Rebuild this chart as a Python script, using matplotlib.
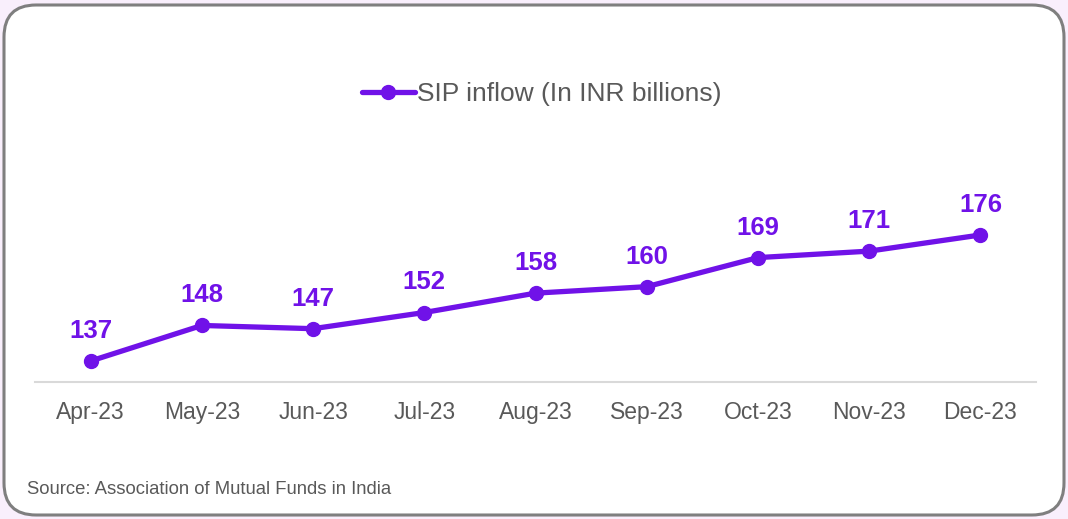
import matplotlib.pyplot as plt
from matplotlib.patches import FancyBboxPatch

plt.rcParams['font.family'] = ['Liberation Sans', 'DejaVu Sans']

# data
months = ['Apr-23', 'May-23', 'Jun-23', 'Jul-23', 'Aug-23', 'Sep-23', 'Oct-23', 'Nov-23', 'Dec-23']
sip_inflow = [137, 148, 147, 152, 158, 160, 169, 171, 176]

purple = '#7012E8'
grey_txt = '#595959'

fig = plt.figure(figsize=(10.68, 5.19), dpi=100)
fig.patch.set_facecolor('#F9EFFC')

# rounded card behind the chart
card = FancyBboxPatch((4 / 1068, 4 / 519), 1060 / 1068, 510 / 519,
                      boxstyle='round,pad=0,rounding_size=0.03',
                      transform=fig.transFigure, facecolor='white',
                      edgecolor='#7F7F7F', linewidth=2.2,
                      mutation_aspect=1068 / 519, zorder=-5)
fig.patches.append(card)

ax = fig.add_axes([35 / 1068, 1 - 382 / 519, 1001 / 1068, 232 / 519])
ax.set_facecolor('none')

x = range(len(months))
ax.plot(x, sip_inflow, color=purple, linewidth=3.8, marker='o', markersize=10,
        solid_capstyle='round', label='SIP inflow (In INR billions)')

for i, v in enumerate(sip_inflow):
    ax.annotate(str(v), (i, v), xytext=(0, 13), textcoords='offset points',
                ha='center', va='bottom', fontsize=18.5, fontweight='bold', color=purple)

ax.set_xlim(-0.5, len(months) - 0.5)
ax.set_ylim(130.5, 202.3)
ax.set_xticks(list(x))
ax.set_xticklabels(months, fontsize=16.5, color=grey_txt)
ax.tick_params(axis='x', length=0, pad=14)
ax.set_yticks([])
for s in ['top', 'left', 'right']:
    ax.spines[s].set_visible(False)
ax.spines['bottom'].set_color('#D9D9D9')
ax.spines['bottom'].set_linewidth(1.5)

leg = fig.legend(loc='center', bbox_to_anchor=(542 / 1068, 1 - 94 / 519), frameon=False,
                 fontsize=19, handlelength=2.0, handletextpad=0.1)
for t in leg.get_texts():
    t.set_color(grey_txt)

fig.text(27 / 1068, 1 - 490 / 519, 'Source: Association of Mutual Funds in India',
         fontsize=13.3, color=grey_txt, ha='left', va='center')

fig.savefig('out.png', dpi=100, facecolor=fig.get_facecolor())
